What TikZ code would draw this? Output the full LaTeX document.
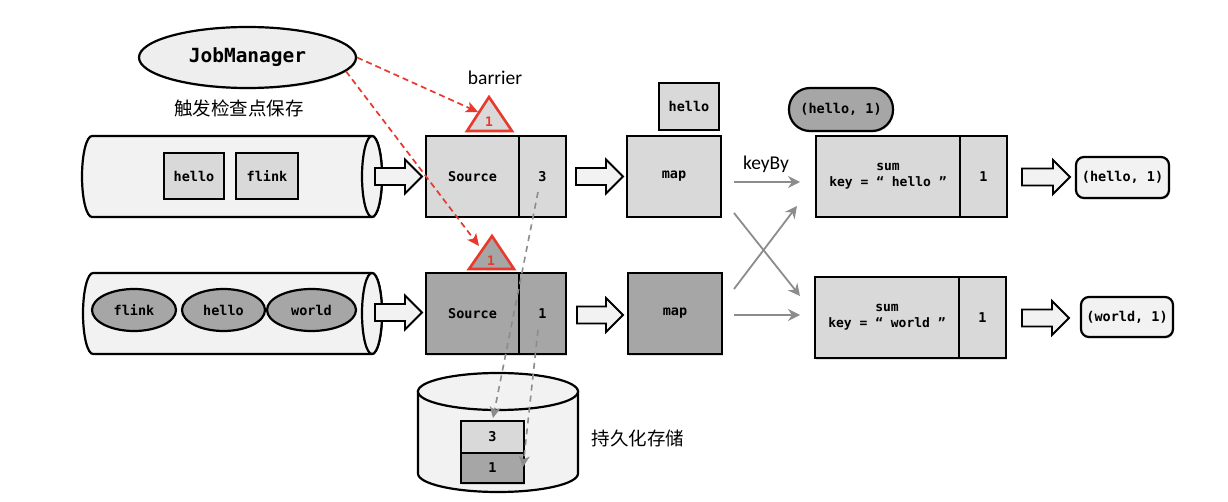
\documentclass[tikz,border=0pt]{standalone}
\usepackage{fontspec}
\setmainfont{Carlito}
\newfontfamily\mono{DejaVu Sans Mono}
\newfontfamily\cjk{Noto Sans CJK SC}
\usetikzlibrary{shapes.geometric,arrows.meta,shadows}
\definecolor{lightg}{HTML}{D9D9D9}
\definecolor{darkg}{HTML}{A6A6A6}
\definecolor{paleg}{HTML}{F2F2F2}
\definecolor{jmfill}{HTML}{EEEEEE}
\definecolor{barred}{HTML}{E8392C}
\definecolor{arrg}{HTML}{8C8C8C}
\tikzset{
  softshadow/.style={drop shadow={shadow xshift=1pt, shadow yshift=-1.5pt, opacity=0.25}},
  monofont/.style={font=\mono\bfseries\fontsize{13.5}{16}\selectfont},
  box/.style={draw=black, line width=2.2pt, inner sep=0pt, fill=lightg, monofont, softshadow},
  eword/.style={ellipse, draw=black, line width=2.2pt, inner sep=0pt, fill=darkg, minimum height=42, monofont},
  jmstyle/.style={ellipse, draw=black, line width=2.2pt, inner sep=0pt, fill=jmfill, minimum width=217, minimum height=61, font=\mono\bfseries\fontsize{19.5}{22}\selectfont, softshadow},
  cyl/.style={draw=black, line width=2.2pt, fill=paleg},
  harr/.style={draw=black, line width=1.8pt, fill=paleg, line join=miter},
  tri/.style={draw=barred, line width=2.6pt, line join=miter},
  redtxt/.style={text=barred, font=\mono\bfseries\fontsize{13}{15}\selectfont, inner sep=0pt},
  lab/.style={font=\fontsize{19.5}{22}\selectfont, inner sep=0pt},
  cjklab/.style={font=\cjk\fontsize{18.5}{22}\selectfont, inner sep=0pt},
  garrow/.style={draw=arrg, line width=1.8pt, -{Stealth[length=12pt,width=12pt,inset=4pt]}},
  gdash/.style={draw=arrg, line width=1.6pt, dash pattern=on 6pt off 5pt, -{Stealth[length=11pt,width=11pt,inset=3pt]}},
  rdash/.style={draw=barred, line width=1.7pt, dash pattern=on 6pt off 4pt, -{Stealth[length=12pt,width=11pt,inset=3pt]}}
}
\newcommand\hollowarrow[3]{\draw[harr] (#1,{#3-8.5}) -- ({#2-17},{#3-8.5}) -- ({#2-17},{#3-17}) -- (#2,#3) -- ({#2-17},{#3+17}) -- ({#2-17},{#3+8.5}) -- (#1,{#3+8.5}) -- cycle;}
\begin{document}
\begin{tikzpicture}[x=1pt,y=-1pt]
\useasboundingbox (0,0) rectangle (1228,502);
\fill[white] (0,0) rectangle (1228,502);

% JobManager
\node[jmstyle] (jm) at (247.5,57.5) {JobManager};
\node[cjklab] (trig) at (239,108) {触发检查点保存};

% top input cylinder
\draw[cyl] (92,136) -- (372,136) arc[start angle=-90,end angle=90,x radius=10,y radius=40.5] -- (92,217) arc[start angle=90,end angle=270,x radius=10,y radius=40.5] -- cycle;
\draw[cyl] (372,176.5) ellipse[x radius=10,y radius=40.5];
\node[box, minimum width=60, minimum height=46] (w1) at (194,176) {hello};
\node[box, minimum width=62, minimum height=46] (w2) at (267,176) {flink};

% bottom input cylinder
\draw[cyl] (93,273) -- (372,273) arc[start angle=-90,end angle=90,x radius=10,y radius=40.5] -- (93,354) arc[start angle=90,end angle=270,x radius=10,y radius=40.5] -- cycle;
\draw[cyl] (372,313.5) ellipse[x radius=10,y radius=40.5];
\node[eword, minimum width=84] (e1) at (134,310) {flink};
\node[eword, minimum width=83] (e2) at (223.5,310) {hello};
\node[eword, minimum width=89] (e3) at (311.5,310) {world};

% hollow arrows
\hollowarrow{375}{422}{176.5}
\hollowarrow{576}{623}{176.5}
\hollowarrow{1022}{1070}{177}
\hollowarrow{375}{422}{312.5}
\hollowarrow{577}{623}{315}
\hollowarrow{1022}{1069}{318}

% sources
\node[box, minimum width=93, minimum height=81] (srcA) at (472.5,176.5) {Source};
\node[box, minimum width=47, minimum height=81] (srcAn) at (542.5,176.5) {3};
\node[box, fill=darkg, minimum width=93, minimum height=81] (srcB) at (472.5,313.5) {Source};
\node[box, fill=darkg, minimum width=47, minimum height=81] (srcBn) at (542.5,313.5) {1};

% maps
\node[box, minimum width=94, minimum height=81] (mapA) at (674,176.5) {map};
\node[box, fill=darkg, minimum width=94, minimum height=81] (mapB) at (675,313.5) {map};
\node[box, minimum width=60, minimum height=47] (hw) at (689,106.5) {hello};

% sums
\node[box, fill=darkg, rounded corners=21pt, minimum width=104, minimum height=43] (pill) at (841,109.5) {(hello, 1)};
\node[box, align=center, minimum width=144, minimum height=81, font=\mono\bfseries\fontsize{13}{16}\selectfont] (sumA) at (888,176.5) {sum\\key = “ hello ”};
\node[box, minimum width=47, minimum height=81] (sumAn) at (983.5,176.5) {1};
\node[box, align=center, minimum width=144, minimum height=81, font=\mono\bfseries\fontsize{13}{16}\selectfont] (sumB) at (887,317.5) {sum\\key = “ world ”};
\node[box, minimum width=47, minimum height=81] (sumBn) at (982.5,317.5) {1};

% results
\node[box, fill=paleg, rounded corners=8pt, minimum width=93, minimum height=41] (resA) at (1122.5,177.5) {(hello, 1)};
\node[box, fill=paleg, rounded corners=8pt, minimum width=92, minimum height=40] (resB) at (1127,317) {(world, 1)};

% database
\draw[cyl] (418,391.5) -- (418,473.5) arc[start angle=180,end angle=0,x radius=80,y radius=18.5] -- (578,391.5) -- cycle;
\draw[cyl] (498,391.5) ellipse[x radius=80,y radius=18.5];
\node[box, minimum width=63, minimum height=32] (st3) at (492.5,437) {3};
\node[box, fill=darkg, minimum width=63, minimum height=30] (st1) at (492.5,468) {1};
\node[cjklab] (store) at (638,438) {持久化存储};

% barriers
\draw[tri, fill=lightg] (489,97) -- (512,131) -- (467,131) -- cycle;
\node[redtxt] (b1) at (489,121.5) {1};
\draw[tri, fill=darkg] (492,236) -- (514,269) -- (469,269) -- cycle;
\node[redtxt] (b2) at (491,260.5) {1};
\node[lab] (barrier) at (495,78) {barrier};
\node[lab] (keyby) at (766,164) {keyBy};

% keyBy arrows
\coordinate (a1s) at (734,182); \coordinate (a1e) at (800,182);
\coordinate (a2s) at (734,213); \coordinate (a2e) at (800,296);
\coordinate (a3s) at (734,289); \coordinate (a3e) at (797,206);
\coordinate (a4s) at (734,315); \coordinate (a4e) at (800,315);
\draw[garrow] (a1s) -- (a1e);
\draw[garrow] (a2s) -- (a2e);
\draw[garrow] (a3s) -- (a3e);
\draw[garrow] (a4s) -- (a4e);

% snapshot arrows
\coordinate (d1s) at (538,192); \coordinate (d1e) at (493,418);
\coordinate (d2s) at (538,330); \coordinate (d2e) at (523,467);
\draw[gdash] (d1s) -- (d1e);
\draw[gdash] (d2s) -- (d2e);

% barrier injection arrows
\coordinate (t1) at (478,112);
\coordinate (t2) at (479,246);
\draw[rdash] (jm.east) -- (t1);
\draw[rdash] (jm.-8) -- (t2);
\end{tikzpicture}
\end{document}
